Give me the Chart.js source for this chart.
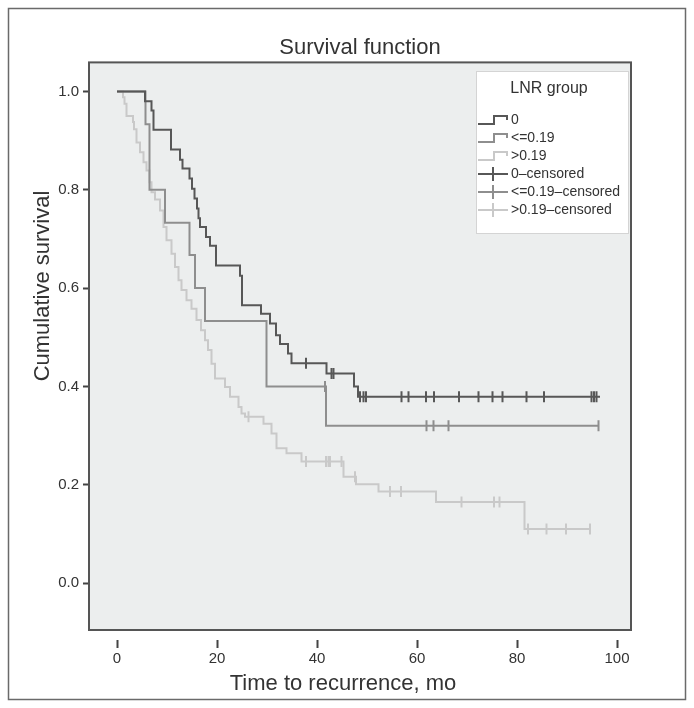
<!DOCTYPE html>
<html>
<head>
<meta charset="utf-8">
<script src="https://cdn.jsdelivr.net/npm/chart.js@4"></script>
<style>
    html, body { margin: 0; padding: 0; background: #fff; }
    #wrap { width: 694px; height: 708px; }
</style>
</head>
<body>
<div id="wrap"><canvas id="km" width="694" height="708"></canvas></div>
<script>
// time (months) where each step begins, and the survival level from there on
const timeLow = [0, 5.6, 6.9, 7.3, 10.8, 12.6, 13.1, 14.5, 15.0, 15.5, 16.0, 16.3, 16.6, 17.8, 18.6, 19.8,
    24.6, 25.0, 28.8, 30.6, 31.8, 32.6, 34.2, 34.9, 41.9, 47.4, 48.2, 96.6];
const survLow = [1.0, 0.980, 0.961, 0.922, 0.882, 0.861, 0.843, 0.823, 0.802, 0.782, 0.762, 0.742, 0.724, 0.704, 0.686, 0.646,
    0.625, 0.565, 0.548, 0.528, 0.504, 0.486, 0.467, 0.447, 0.426, 0.400, 0.379, 0.379];
const censLow = [37.8, 42.9, 43.3, 48.6, 49.3, 49.8, 56.9, 58.3, 61.8, 63.4, 68.4, 72.3, 75.1, 77.1, 81.9, 85.4, 94.9, 95.4, 95.9];

const timeMid = [0, 5.7, 6.5, 9.6, 14.5, 15.6, 17.6, 29.9, 41.8, 96.3];
const survMid = [1.0, 0.933, 0.800, 0.733, 0.667, 0.600, 0.533, 0.400, 0.320, 0.320];
const censMid = [41.6, 61.9, 63.3, 66.3, 96.3];

const timeHigh = [0, 1.2, 1.5, 1.9, 3.2, 3.4, 3.9, 4.6, 5.3, 5.9, 6.5, 6.9, 7.6, 8.6, 9.3, 9.9, 10.9, 11.6, 12.3, 12.9,
    13.9, 14.9, 15.9, 16.8, 17.6, 18.2, 18.9, 19.6, 21.6, 22.6, 24.3, 24.9, 25.6, 29.3, 30.9, 31.9, 33.9, 36.9, 45.3, 47.8,
    52.3, 63.8, 81.5, 94.6];
const survHigh = [1.0, 0.988, 0.975, 0.950, 0.938, 0.923, 0.896, 0.876, 0.856, 0.839, 0.815, 0.795, 0.780, 0.758, 0.724, 0.697, 0.670, 0.643, 0.616, 0.596,
    0.575, 0.558, 0.535, 0.514, 0.494, 0.474, 0.446, 0.416, 0.399, 0.379, 0.358, 0.345, 0.338, 0.324, 0.304, 0.274, 0.264, 0.247, 0.216, 0.201,
    0.186, 0.165, 0.110, 0.110];
const censHigh = [26.3, 37.8, 41.8, 42.3, 42.6, 44.9, 47.6, 54.6, 56.8, 68.9, 75.4, 76.5, 82.2, 85.9, 89.8, 94.6];

const groupLabels = ['0', '<=0.19', '>0.19'];
const xTicks = [0, 20, 40, 60, 80, 100];
const yTicks = [0.0, 0.2, 0.4, 0.6, 0.8, 1.0];

const colors = ['#575757', '#8e8e8e', '#c9c9c9'];
const FONT = "'Liberation Sans', Arial, sans-serif";

const toPoints = (ts, ss) => ts.map((t, i) => ({ x: t, y: ss[i] }));

function survAt(ts, ss, t) {
    let v = ss[0];
    for (let i = 0; i < ts.length; i++) {
        if (ts[i] <= t) v = ss[i];
    }
    return v;
}

function stepSet(label, ts, ss, color) {
    return {
        type: 'line',
        label: label,
        data: toPoints(ts, ss),
        stepped: 'before',
        borderColor: color,
        borderWidth: 2,
        pointRadius: 0,
        fill: false
    };
}

function censorSet(label, cs, ts, ss, color) {
    return {
        type: 'scatter',
        label: label + '–censored',
        data: cs.map(t => ({ x: t, y: survAt(ts, ss, t) })),
        pointStyle: 'line',
        rotation: 90,
        pointRadius: 5.5,
        borderColor: color,
        borderWidth: 2,
        backgroundColor: color
    };
}

const frame = {
    id: 'frame',
    beforeDraw(chart) {
        const { ctx, chartArea: a } = chart;
        ctx.save();
        ctx.fillStyle = '#fff';
        ctx.fillRect(0, 0, chart.width, chart.height);
        ctx.strokeStyle = '#6a6a6a';
        ctx.lineWidth = 1.5;
        ctx.strokeRect(8.5, 8.5, 677, 691);
        ctx.fillStyle = '#eceeee';
        ctx.fillRect(a.left, a.top, a.right - a.left, a.bottom - a.top);
        ctx.restore();
    },
    afterDraw(chart) {
        const { ctx, chartArea: a } = chart;
        ctx.save();
        ctx.strokeStyle = '#555';
        ctx.lineWidth = 2;
        ctx.strokeRect(a.left, a.top, a.right - a.left, a.bottom - a.top);

        // axis titles
        ctx.fillStyle = '#333';
        ctx.font = '22px ' + FONT;
        ctx.textAlign = 'center';
        ctx.textBaseline = 'middle';
        ctx.fillText('Time to recurrence, mo', 343, 684);
        ctx.translate(43, 286);
        ctx.rotate(-Math.PI / 2);
        ctx.fillText('Cumulative survival', 0, 0);
        ctx.restore();

        // legend box
        ctx.save();
        const bx = 476, by = 71, bw = 152, bh = 162;
        ctx.fillStyle = '#fff';
        ctx.fillRect(bx, by, bw, bh);
        ctx.strokeStyle = '#d4d4d4';
        ctx.lineWidth = 1;
        ctx.strokeRect(bx + 0.5, by + 0.5, bw, bh);
        ctx.fillStyle = '#333';
        ctx.font = '16px ' + FONT;
        ctx.textAlign = 'center';
        ctx.textBaseline = 'middle';
        ctx.fillText('LNR group', bx + 73, by + 18);

        const names = groupLabels.concat(groupLabels.map(g => g + '–censored'));
        ctx.font = '14px ' + FONT;
        ctx.textAlign = 'left';
        names.forEach((name, i) => {
            const y = by + 49 + i * 18;
            const c = colors[i % 3];
            ctx.strokeStyle = c;
            ctx.lineWidth = 2;
            ctx.beginPath();
            if (i < 3) {
                ctx.moveTo(bx + 2, y + 4);
                ctx.lineTo(bx + 18, y + 4);
                ctx.lineTo(bx + 18, y - 4);
                ctx.lineTo(bx + 31, y - 4);
                ctx.lineTo(bx + 31, y);
            } else {
                ctx.moveTo(bx + 2, y);
                ctx.lineTo(bx + 32, y);
                ctx.moveTo(bx + 17, y - 7);
                ctx.lineTo(bx + 17, y + 7);
            }
            ctx.stroke();
            ctx.fillStyle = '#333';
            ctx.fillText(name, bx + 35, y);
        });
        ctx.restore();
    }
};

new Chart(document.getElementById('km').getContext('2d'), {
    data: {
        datasets: [
            stepSet(groupLabels[0], timeLow, survLow, colors[0]),
            stepSet(groupLabels[1], timeMid, survMid, colors[1]),
            stepSet(groupLabels[2], timeHigh, survHigh, colors[2]),
            censorSet(groupLabels[0], censLow, timeLow, survLow, colors[0]),
            censorSet(groupLabels[1], censMid, timeMid, survMid, colors[1]),
            censorSet(groupLabels[2], censHigh, timeHigh, survHigh, colors[2])
        ]
    },
    options: {
        responsive: false,
        animation: false,
        layout: { padding: { left: 0, right: 63, top: 0, bottom: 0 } },
        scales: {
            x: {
                type: 'linear',
                min: -5.6,
                max: 102.8,
                afterBuildTicks: s => { s.ticks = xTicks.map(v => ({ value: v })); },
                afterFit: s => { s.height = 78; },
                grid: {
                    drawOnChartArea: false,
                    tickLength: 18,
                    tickBorderDash: [0, 10, 8, 100],
                    tickColor: '#444',
                    tickWidth: 2
                },
                border: { display: false },
                ticks: {
                    color: '#333',
                    padding: 2,
                    font: { family: FONT, size: 15 },
                    callback: v => String(v)
                }
            },
            y: {
                type: 'linear',
                min: -0.0955,
                max: 1.059,
                afterBuildTicks: s => { s.ticks = yTicks.map(v => ({ value: v })); },
                afterFit: s => { s.width = 89; },
                grid: {
                    drawOnChartArea: false,
                    tickLength: 6,
                    tickColor: '#444',
                    tickWidth: 2
                },
                border: { display: false },
                ticks: {
                    color: '#333',
                    padding: 4,
                    font: { family: FONT, size: 15 },
                    callback: v => v.toFixed(1)
                }
            }
        },
        plugins: {
            legend: { display: false },
            tooltip: { enabled: false },
            title: {
                display: true,
                text: 'Survival function',
                fullSize: false,
                color: '#333',
                font: { family: FONT, size: 22, weight: 'normal', lineHeight: 1.2 },
                padding: { top: 35, bottom: 1 }
            }
        }
    },
    plugins: [frame]
});
</script>
</body>
</html>
